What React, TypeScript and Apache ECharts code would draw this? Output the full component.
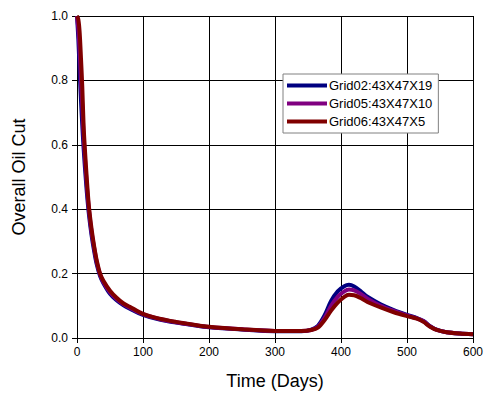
import React, { useEffect, useRef } from "react";
import * as echarts from "echarts";

const days = [0, 2, 4, 6, 8, 10, 12, 15, 18, 22, 26, 30, 35, 40, 50, 60, 70, 80, 100, 125, 150, 175, 200, 250, 300, 340, 355, 365, 375, 385, 395, 405, 412, 420, 430, 440, 460, 480, 500, 515, 525, 535, 545, 560, 580, 600];

const grid02 = [1.0, 0.93, 0.83, 0.74, 0.66, 0.59, 0.53, 0.45, 0.385, 0.32, 0.27, 0.228, 0.192, 0.17, 0.137, 0.117, 0.102, 0.091, 0.072, 0.057, 0.048, 0.040, 0.033, 0.026, 0.021, 0.021, 0.026, 0.038, 0.07, 0.115, 0.145, 0.161, 0.165, 0.16, 0.145, 0.128, 0.105, 0.087, 0.072, 0.062, 0.053, 0.037, 0.026, 0.018, 0.014, 0.012];
const grid05 = [1.0, 0.96, 0.89, 0.80, 0.72, 0.63, 0.56, 0.47, 0.40, 0.33, 0.28, 0.235, 0.197, 0.174, 0.142, 0.121, 0.105, 0.094, 0.074, 0.059, 0.049, 0.041, 0.034, 0.027, 0.022, 0.022, 0.025, 0.035, 0.062, 0.1, 0.128, 0.145, 0.151, 0.148, 0.137, 0.122, 0.1, 0.084, 0.07, 0.061, 0.052, 0.036, 0.025, 0.018, 0.014, 0.012];
const grid06 = [1.0, 0.99, 0.95, 0.87, 0.78, 0.66, 0.585, 0.49, 0.41, 0.34, 0.285, 0.24, 0.20, 0.178, 0.147, 0.125, 0.108, 0.097, 0.075, 0.06, 0.05, 0.042, 0.035, 0.027, 0.022, 0.022, 0.025, 0.032, 0.055, 0.085, 0.11, 0.128, 0.134, 0.133, 0.124, 0.112, 0.095, 0.08, 0.068, 0.06, 0.05, 0.035, 0.025, 0.018, 0.014, 0.012];

const seriesNames = ["Grid02:43X47X19", "Grid05:43X47X10", "Grid06:43X47X5"];
const seriesColors = ["#000080", "#800080", "#800000"];
const seriesValues = [grid02, grid05, grid06];

const FONT = "Liberation Sans, Arial, Helvetica, sans-serif";

export default function App() {
  const ref = useRef<HTMLDivElement>(null);
  useEffect(() => {
    if (!ref.current) return;
    const chart = echarts.init(ref.current, null, { renderer: "svg" });
    chart.setOption({
      animation: false,
      backgroundColor: "#ffffff",
      textStyle: { fontFamily: FONT },
      grid: { left: 77, right: 11, top: 16, bottom: 57, containLabel: false },
      legend: {
        orient: "vertical",
        left: 283,
        top: 74,
        data: seriesNames,
        icon: "rect",
        itemWidth: 40,
        itemHeight: 4,
        itemGap: 3,
        backgroundColor: "#ffffff",
        borderColor: "#808080",
        borderWidth: 1,
        padding: [4, 6, 4, 4],
        textStyle: { fontFamily: FONT, fontSize: 13, color: "#000", padding: [0, 0, 0, -3], lineHeight: 15 },
      },
      xAxis: {
        type: "value",
        min: 0,
        max: 600,
        interval: 100,
        name: "Time (Days)",
        nameLocation: "middle",
        nameGap: 34,
        nameTextStyle: { fontFamily: FONT, fontSize: 18, color: "#000" },
        axisLine: { show: true, lineStyle: { color: "#000", width: 1 } },
        axisTick: { show: true, inside: false, length: 5, lineStyle: { color: "#000" } },
        axisLabel: { fontFamily: FONT, fontSize: 12, color: "#000", margin: 8 },
        splitLine: { show: true, lineStyle: { color: "#000", width: 1 } },
      },
      yAxis: {
        type: "value",
        min: 0,
        max: 1,
        interval: 0.2,
        name: "Overall Oil Cut",
        nameLocation: "middle",
        nameGap: 49,
        nameTextStyle: { fontFamily: FONT, fontSize: 18, color: "#000" },
        axisLine: { show: true, lineStyle: { color: "#000", width: 1 } },
        axisTick: { show: true, inside: false, length: 5, lineStyle: { color: "#000" } },
        axisLabel: { fontFamily: FONT, fontSize: 12, color: "#000", margin: 9, formatter: (v: number) => v.toFixed(1) },
        splitLine: { show: true, lineStyle: { color: "#000", width: 1 } },
      },
      series: seriesNames.map((name, i) => ({
        name,
        type: "line",
        data: days.map((d, j) => [d, seriesValues[i][j]]),
        smooth: 0.3,
        showSymbol: false,
        color: seriesColors[i],
        lineStyle: { width: 4, color: seriesColors[i] },
      })),
    });
    return () => chart.dispose();
  }, []);
  return <div ref={ref} style={{ position: "fixed", left: 0, top: 0, width: 486, height: 395 }} />;
}
